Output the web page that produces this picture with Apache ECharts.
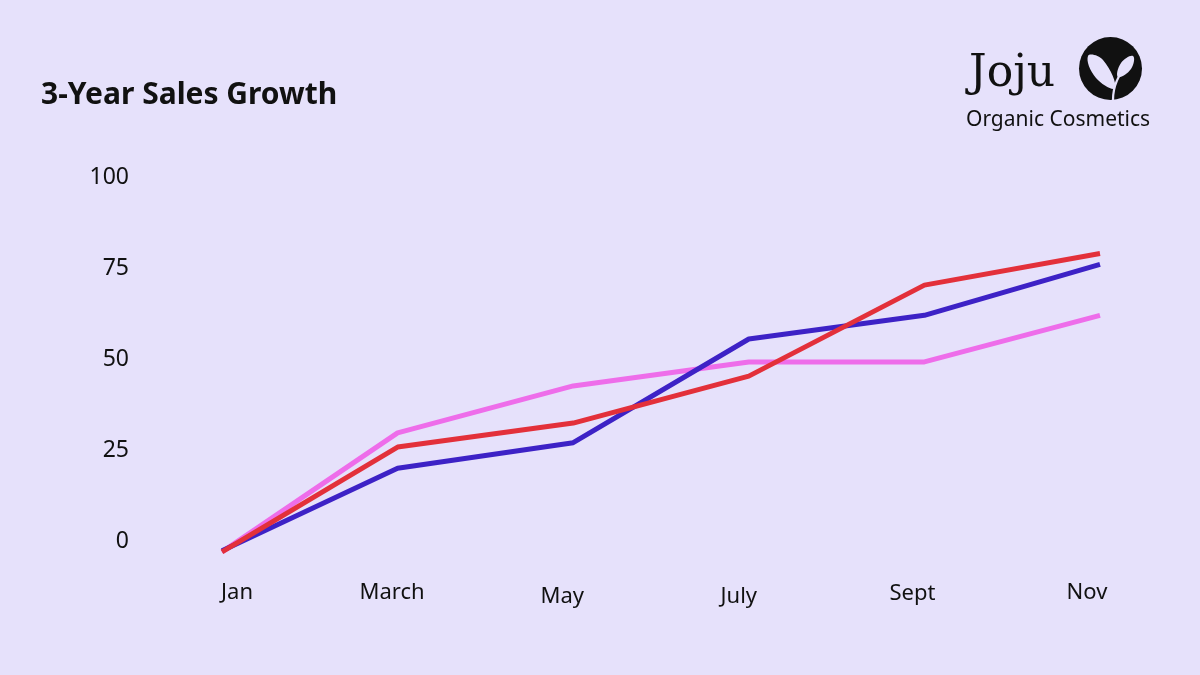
<!DOCTYPE html>
<html>
<head>
<meta charset="utf-8">
<script src="https://cdn.jsdelivr.net/npm/echarts@6/dist/echarts.min.js"></script>
<style>
  html, body { margin: 0; padding: 0; background: #E6E1FB; }
  #chart { width: 1200px; height: 675px; }
</style>
</head>
<body>
<div id="chart"></div>
<script>
// ---- data ----
const categories = ['Jan', 'March', 'May', 'July', 'Sept', 'Nov'];
const seriesNames = ['Year 1', 'Year 2', 'Year 3'];
const blueValues = [-2.7, 20, 27, 55.5, 62, 76];
const redValues = [-3, 25.8, 32.4, 45.3, 70.3, 79];
const pinkValues = [-3, 29.7, 42.6, 49.2, 49.2, 62];
const yTicks = [0, 25, 50, 75, 100];

// label nudges (style only): [top, right, left] padding
const labelPads = [[0, 0, 30], [0, 11, 0], [4, 22, 0], [4, 20, 0], [1, 24, 0], [0, 26, 0]];

const rich = {};
labelPads.forEach((p, i) => {
  rich['c' + i] = {
    fontFamily: 'Noto Sans', fontSize: 22, color: '#111',
    padding: [p[0], p[1], 0, p[2]]
  };
});

const chart = echarts.init(document.getElementById('chart'), null, { renderer: 'canvas' });

const leafColor = '#E6E1FB';

chart.setOption({
  backgroundColor: '#E6E1FB',
  animation: false,
  title: {
    text: '3-Year Sales Growth',
    left: 36, top: 75,
    textStyle: { fontFamily: 'Noto Sans', fontWeight: 'bold', fontSize: 30, color: '#111' }
  },
  graphic: [
    { type: 'text', left: 969, top: 53,
      style: { text: 'Joju', font: '44px "DejaVu Serif"', fill: '#111' } },
    { type: 'text', left: 966, top: 110,
      style: { text: 'Organic Cosmetics', font: '21px "Noto Sans"', fill: '#111' } },
    { type: 'circle', shape: { cx: 1110.5, cy: 68.5, r: 31.5 }, style: { fill: '#111' } },
    // big leaf
    { type: 'polygon', shape: { points: [[1088, 56], [1103, 60], [1115, 88], [1096, 78]], smooth: 0.45 },
      style: { fill: leafColor } },
    // small leaf
    { type: 'polygon', shape: { points: [[1133, 56], [1131, 69], [1118, 77], [1121, 63]], smooth: 0.45 },
      style: { fill: leafColor } },
    // stem
    { type: 'bezierCurve', shape: { x1: 1113, y1: 100, cpx1: 1113, cpy1: 80, x2: 1128, y2: 64 },
      style: { stroke: leafColor, lineWidth: 2.2, fill: 'none' } }
  ],
  grid: { left: 222, right: 100, top: 177, bottom: 134 },
  xAxis: {
    type: 'category',
    data: categories,
    boundaryGap: false,
    axisLine: { show: false },
    axisTick: { show: false },
    splitLine: { show: false },
    axisLabel: {
      margin: 41,
      formatter: (v, i) => '{c' + i + '|' + v + '}',
      rich: rich
    }
  },
  yAxis: {
    type: 'value',
    min: yTicks[0], max: yTicks[yTicks.length - 1], interval: 25,
    axisLine: { show: false },
    axisTick: { show: false },
    splitLine: { show: false },
    axisLabel: { margin: 93, fontFamily: 'Noto Sans', fontSize: 23, color: '#111', padding: [8, 0, 0, 0] }
  },
  series: [
    { name: seriesNames[0], type: 'line', data: blueValues, clip: false, symbol: 'none',
      lineStyle: { color: '#3D22C6', width: 5 }, z: 2 },
    { name: seriesNames[2], type: 'line', data: pinkValues, clip: false, symbol: 'none',
      lineStyle: { color: '#EE6DEA', width: 5 }, z: 1 },
    { name: seriesNames[1], type: 'line', data: redValues, clip: false, symbol: 'none',
      lineStyle: { color: '#E3303A', width: 5 }, z: 3 }
  ]
});
</script>
</body>
</html>
